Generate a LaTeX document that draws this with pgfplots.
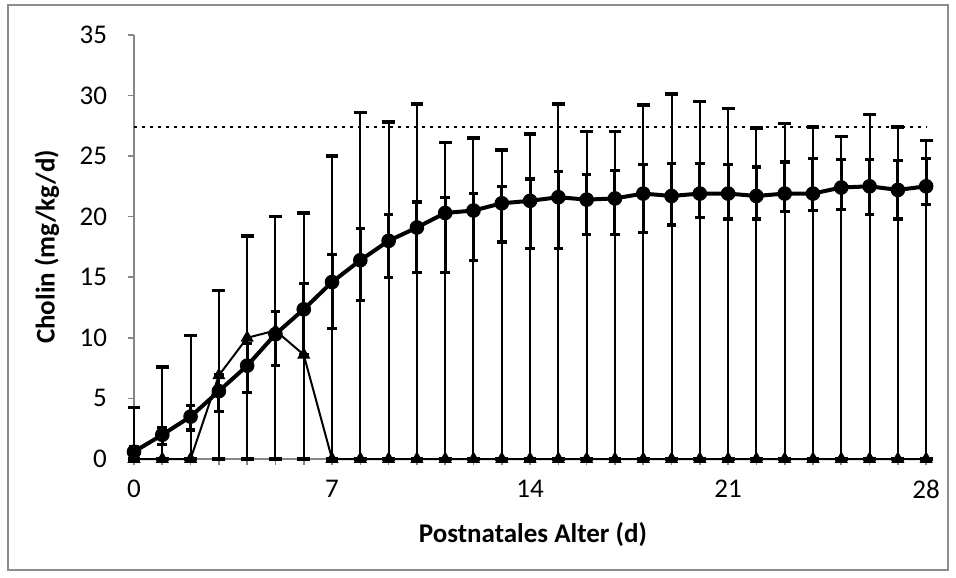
\documentclass[border=0pt]{standalone}
\usepackage{fontspec}
\setmainfont{Carlito}
\usepackage{pgfplots}
\pgfplotsset{compat=1.18}
\usepackage{pgfplotstable}
\definecolor{axisgray}{HTML}{868686}
\definecolor{framegray}{HTML}{8C8C8C}

\pgfplotstableread{
d m lo hi
0 0.6 0.3 1.0
1 2.0 1.2 2.6
2 3.5 2.4 4.4
3 5.6 3.9 7.0
4 7.7 5.5 9.5
5 10.3 7.7 12.2
6 12.35 8.6 14.5
7 14.6 10.8 16.9
8 16.4 13.1 19.0
9 18.0 15.0 20.2
10 19.1 15.4 21.2
11 20.3 15.4 21.6
12 20.5 16.4 21.9
13 21.1 17.9 22.5
14 21.3 17.4 23.1
15 21.6 17.4 23.7
16 21.4 18.5 23.5
17 21.5 18.5 23.8
18 21.9 18.7 24.3
19 21.7 19.3 24.4
20 21.9 19.9 24.4
21 21.9 19.8 24.3
22 21.7 19.8 24.1
23 21.9 20.4 24.5
24 21.9 20.5 24.8
25 22.4 20.6 24.7
26 22.5 20.2 24.7
27 22.2 19.8 24.6
28 22.5 21.0 24.8
}\meanseries

\pgfplotstableread{
d t hi
0 0 4.24
1 0 7.6
2 0 10.2
3 6.9 13.9
4 10.0 18.4
5 10.6 20.0
6 8.6 20.3
7 0 25.0
8 0 28.6
9 0 27.8
10 0 29.3
11 0 26.1
12 0 26.5
13 0 25.5
14 0 26.8
15 0 29.3
16 0 27.0
17 0 27.0
18 0 29.2
19 0 30.1
20 0 29.5
21 0 28.9
22 0 27.3
23 0 27.7
24 0 27.4
25 0 26.6
26 0 28.4
27 0 27.4
28 0 26.3
}\rangeseries

\pgfplotstableread{
d v
0 27.4
28 27.4
}\refline

\begin{document}
\begin{tikzpicture}
\begin{axis}[
  scale only axis,
  width=398.9pt, height=212.1pt,
  xmin=0, xmax=28.2, ymin=0, ymax=35,
  axis x line=bottom, axis y line=left,
  axis line style={-, draw=axisgray, line width=0.8pt},
  xtick={0,7,14,21,28}, minor xtick={0,...,28},
  ytick={0,5,...,35},
  tick align=outside,
  major tick length=3pt, minor tick length=3pt,
  every tick/.style={draw=axisgray, line width=0.8pt},
  minor tick style={draw=axisgray, line width=0.8pt},
  /pgf/number format/assume math mode=true,
  ticklabel style={font=\fontsize{13.5}{15}\selectfont, text=black},
  yticklabel style={xshift=-7pt},
  xticklabel style={yshift=-4pt},
  xlabel={Postnatales Alter (d)},
  ylabel={Cholin (mg/kg/d)},
  label style={font=\bfseries\fontsize{13.5}{15}\selectfont},
  xlabel style={at={([yshift=-38pt]axis description cs:0.5,0)}, anchor=center},
  ylabel style={at={([xshift=-43.5pt]axis description cs:0,0.5)}, anchor=center, rotate=0},
  clip=false,
]
% range series (triangles) with long error bars
\addplot[black, line width=1pt, mark=triangle*, mark size=3.3pt,
  mark options={solid, fill=black, line width=0.5pt},
  error bars/.cd, y dir=both, y explicit,
  error bar style={line width=1pt, black},
  error mark options={rotate=90, mark size=3.2pt, line width=1.7pt, black}]
  table[x=d, y=t, y error plus expr=\thisrow{hi}-\thisrow{t}, y error minus expr=\thisrow{t}] {\rangeseries};
% mean series
\addplot[black, line width=2pt, mark=*, mark size=3.4pt,
  mark options={solid, fill=black, line width=0.5pt},
  error bars/.cd, y dir=both, y explicit,
  error bar style={line width=1.5pt, black},
  error mark options={rotate=90, mark size=2.4pt, line width=1.6pt, black}]
  table[x=d, y=m, y error plus expr=\thisrow{hi}-\thisrow{m}, y error minus expr=\thisrow{m}-\thisrow{lo}] {\meanseries};
% reference line
\addplot[black, line width=1.3pt, dash pattern=on 1.3pt off 2.7pt] table[x=d, y=v] {\refline};
\coordinate (O) at (rel axis cs:0,0);
\end{axis}
\draw[framegray, line width=0.8pt] ([xshift=-63pt,yshift=-55.5pt]O) rectangle ([xshift=407pt,yshift=227pt]O);
\pgfresetboundingbox
\path[use as bounding box] ([xshift=-67pt,yshift=-59pt]O) rectangle ([xshift=411pt,yshift=229.5pt]O);
\end{tikzpicture}
\end{document}
